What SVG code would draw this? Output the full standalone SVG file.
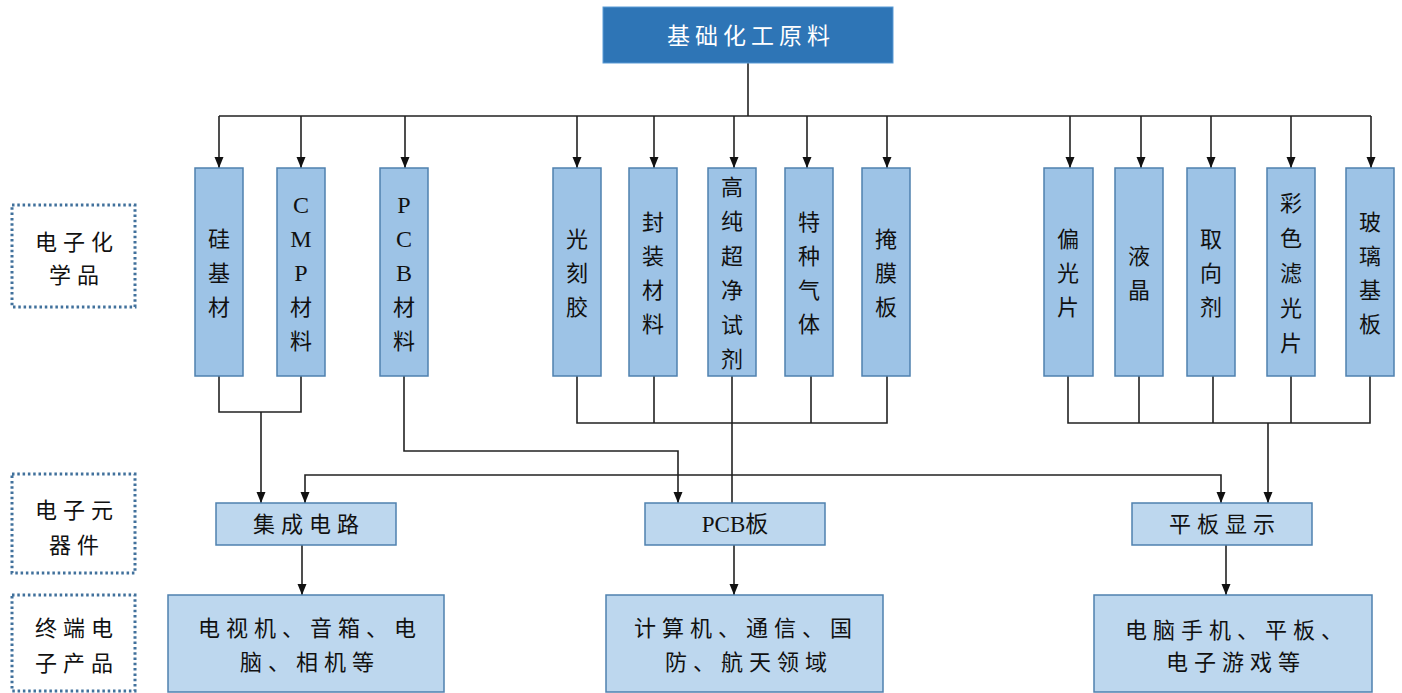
<svg xmlns="http://www.w3.org/2000/svg" width="1402" height="693" viewBox="0 0 1402 693">
<defs>
<style>
.t{font-family:"Liberation Serif","Noto Sans CJK SC",serif;font-size:22px;fill:#111;text-anchor:middle}
.sp{letter-spacing:6px}
.col{fill:#9DC3E6;stroke:#4F81AF;stroke-width:1.5}
.cmp{fill:#BDD7EE;stroke:#4F81AF;stroke-width:1.5}
.lab{fill:none;stroke:#41719C;stroke-width:3;stroke-dasharray:2.5 2.8}
.ln{fill:none;stroke:#222;stroke-width:1.6}
</style>
<marker id="ah" markerUnits="userSpaceOnUse" markerWidth="10" markerHeight="12" refX="5" refY="11" orient="auto-start-reverse" viewBox="0 0 10 12">
<path d="M0,0 L10,0 L5,11 z" fill="#111" transform="rotate(0)"/>
</marker>
<marker id="a" markerUnits="userSpaceOnUse" markerWidth="12" markerHeight="10" refX="11" refY="5" orient="auto" viewBox="0 0 12 10">
<path d="M0,0.5 L11,5 L0,9.5 z" fill="#111"/>
</marker>
</defs>
<rect width="1402" height="693" fill="#fff"/>

<g id="labels">
<g id="lab-chem"><rect class="lab" x="12" y="205" width="123" height="102"/>
<text class="t sp" x="77" y="250">电子化</text><text class="t sp" x="77" y="283">学品</text></g>
<g id="lab-comp"><rect class="lab" x="12" y="474" width="123" height="99"/>
<text class="t sp" x="77" y="518">电子元</text><text class="t sp" x="77" y="553">器件</text></g>
<g id="lab-prod"><rect class="lab" x="12" y="595" width="123" height="96"/>
<text class="t sp" x="77" y="636">终端电</text><text class="t sp" x="77" y="671">子产品</text></g>
</g>

<g id="connectors">
<path class="ln" d="M748,63 V116 M219,116 H1371"/>
<path class="ln" marker-end="url(#a)" d="M219,116 V168"/>
<path class="ln" marker-end="url(#a)" d="M301,116 V168"/>
<path class="ln" marker-end="url(#a)" d="M405,116 V168"/>
<path class="ln" marker-end="url(#a)" d="M577,116 V168"/>
<path class="ln" marker-end="url(#a)" d="M654,116 V168"/>
<path class="ln" marker-end="url(#a)" d="M734,116 V168"/>
<path class="ln" marker-end="url(#a)" d="M807,116 V168"/>
<path class="ln" marker-end="url(#a)" d="M887,116 V168"/>
<path class="ln" marker-end="url(#a)" d="M1070,116 V168"/>
<path class="ln" marker-end="url(#a)" d="M1141,116 V168"/>
<path class="ln" marker-end="url(#a)" d="M1211,116 V168"/>
<path class="ln" marker-end="url(#a)" d="M1291,116 V168"/>
<path class="ln" marker-end="url(#a)" d="M1371,116 V168"/>

<path class="ln" d="M219,376 V412 H301 V376"/>
<path class="ln" marker-end="url(#a)" d="M261,412 V503"/>
<path class="ln" marker-end="url(#a)" d="M404,376 V451 H678 V503"/>

<path class="ln" d="M577,376 V423 H887 V376 M654,376 V423 M732,376 V423 M811,376 V423"/>
<path class="ln" d="M732,423 V503"/>
<path class="ln" marker-end="url(#a)" d="M732,475 H305 V503"/>
<path class="ln" marker-end="url(#a)" d="M732,475 H1221 V503"/>

<path class="ln" d="M1068,376 V423 H1370 V376 M1139,376 V423 M1213,376 V423 M1291,376 V423"/>
<path class="ln" marker-end="url(#a)" d="M1268,423 V503"/>

<path class="ln" marker-end="url(#a)" d="M302,545 V595"/>
<path class="ln" marker-end="url(#a)" d="M734,545 V595"/>
<path class="ln" marker-end="url(#a)" d="M1226,545 V595"/>
</g>

<g id="root"><rect x="603" y="7" width="290" height="56" fill="#2E75B6" stroke="#5B9BD5" stroke-width="1"/>
<text class="t" x="751" y="44" style="fill:#fff;font-size:23px;letter-spacing:5px">基础化工原料</text></g>

<g id="c-si"><rect class="col" x="195" y="168" width="48" height="208"/>
<text class="t"><tspan x="219" y="247">硅</tspan><tspan x="219" y="281">基</tspan><tspan x="219" y="315">材</tspan></text></g>
<g id="c-cmp"><rect class="col" x="277" y="168" width="48" height="208"/>
<text class="t" style="font-size:24px"><tspan x="301" y="213">C</tspan><tspan x="301" y="247">M</tspan><tspan x="301" y="281">P</tspan></text>
<text class="t"><tspan x="301" y="315">材</tspan><tspan x="301" y="349">料</tspan></text></g>
<g id="c-pcb"><rect class="col" x="380" y="168" width="48" height="208"/>
<text class="t" style="font-size:24px"><tspan x="404" y="213">P</tspan><tspan x="404" y="247">C</tspan><tspan x="404" y="281">B</tspan></text>
<text class="t"><tspan x="404" y="315">材</tspan><tspan x="404" y="349">料</tspan></text></g>
<g id="c-resist"><rect class="col" x="553" y="168" width="48" height="208"/>
<text class="t"><tspan x="577" y="247">光</tspan><tspan x="577" y="281">刻</tspan><tspan x="577" y="315">胶</tspan></text></g>
<g id="c-pack"><rect class="col" x="629" y="168" width="48" height="208"/>
<text class="t"><tspan x="653" y="230">封</tspan><tspan x="653" y="264">装</tspan><tspan x="653" y="298">材</tspan><tspan x="653" y="332">料</tspan></text></g>
<g id="c-reagent"><rect class="col" x="708" y="168" width="48" height="208"/>
<text class="t"><tspan x="732" y="195">高</tspan><tspan x="732" y="229">纯</tspan><tspan x="732" y="264">超</tspan><tspan x="732" y="298">净</tspan><tspan x="732" y="333">试</tspan><tspan x="732" y="367">剂</tspan></text></g>
<g id="c-gas"><rect class="col" x="785" y="168" width="48" height="208"/>
<text class="t"><tspan x="809" y="230">特</tspan><tspan x="809" y="264">种</tspan><tspan x="809" y="298">气</tspan><tspan x="809" y="332">体</tspan></text></g>
<g id="c-mask"><rect class="col" x="862" y="168" width="48" height="208"/>
<text class="t"><tspan x="886" y="247">掩</tspan><tspan x="886" y="281">膜</tspan><tspan x="886" y="315">板</tspan></text></g>
<g id="c-polar"><rect class="col" x="1044" y="168" width="49" height="208"/>
<text class="t"><tspan x="1068" y="247">偏</tspan><tspan x="1068" y="281">光</tspan><tspan x="1068" y="315">片</tspan></text></g>
<g id="c-lc"><rect class="col" x="1115" y="168" width="48" height="208"/>
<text class="t"><tspan x="1139" y="264">液</tspan><tspan x="1139" y="298">晶</tspan></text></g>
<g id="c-align"><rect class="col" x="1187" y="168" width="48" height="208"/>
<text class="t"><tspan x="1211" y="247">取</tspan><tspan x="1211" y="281">向</tspan><tspan x="1211" y="315">剂</tspan></text></g>
<g id="c-cf"><rect class="col" x="1267" y="168" width="48" height="208"/>
<text class="t"><tspan x="1291" y="211">彩</tspan><tspan x="1291" y="246">色</tspan><tspan x="1291" y="281">滤</tspan><tspan x="1291" y="316">光</tspan><tspan x="1291" y="351">片</tspan></text></g>
<g id="c-glass"><rect class="col" x="1346" y="168" width="48" height="208"/>
<text class="t"><tspan x="1370" y="230">玻</tspan><tspan x="1370" y="264">璃</tspan><tspan x="1370" y="298">基</tspan><tspan x="1370" y="332">板</tspan></text></g>

<g id="d-ic"><rect class="cmp" x="216" y="503" width="180" height="42"/>
<text class="t sp" x="309" y="532">集成电路</text></g>
<g id="d-pcb"><rect class="cmp" x="645" y="503" width="180" height="42"/>
<text class="t" x="735" y="532" style="font-size:23px">PCB板</text></g>
<g id="d-fpd"><rect class="cmp" x="1132" y="503" width="180" height="42"/>
<text class="t sp" x="1225" y="532">平板显示</text></g>

<g id="p-ic"><rect class="cmp" x="168" y="595" width="276" height="97"/>
<text class="t sp" x="310" y="636">电视机、音箱、电</text><text class="t sp" x="310" y="670">脑、相机等</text></g>
<g id="p-pcb"><rect class="cmp" x="606" y="595" width="277" height="97"/>
<text class="t sp" x="746" y="636">计算机、通信、国</text><text class="t sp" x="749" y="670">防、航天领域</text></g>
<g id="p-fpd"><rect class="cmp" x="1094" y="595" width="278" height="97"/>
<text class="t sp" x="1237" y="638">电脑手机、平板、</text><text class="t sp" x="1236" y="670">电子游戏等</text></g>
</svg>
